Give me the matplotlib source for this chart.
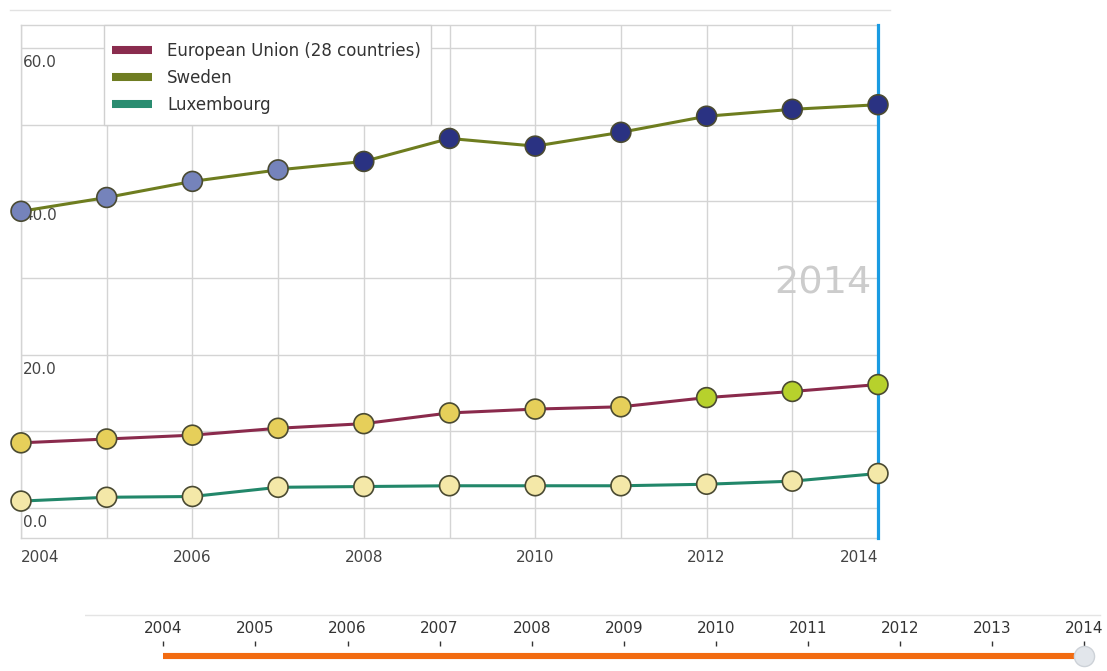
import matplotlib
matplotlib.use("Agg")
import matplotlib.pyplot as plt
from matplotlib.lines import Line2D
from matplotlib.patches import Rectangle

# ---------------- data ----------------
years = [2004, 2005, 2006, 2007, 2008, 2009, 2010, 2011, 2012, 2013, 2014]
eu28 = [8.5, 9.0, 9.5, 10.4, 11.0, 12.4, 12.9, 13.2, 14.4, 15.2, 16.1]
sweden = [38.7, 40.5, 42.6, 44.1, 45.2, 48.2, 47.2, 49.0, 51.1, 52.0, 52.6]
luxembourg = [0.9, 1.4, 1.5, 2.7, 2.8, 2.9, 2.9, 2.9, 3.1, 3.5, 4.5]
series_names = ["European Union (28 countries)", "Sweden", "Luxembourg"]
y_ticks = [0, 20, 40, 60]
y_tick_labels = ["0.0", "20.0", "40.0", "60.0"]
x_label_years = [2004, 2006, 2008, 2010, 2012, 2014]
slider_years = years
selected_year = 2014

# styles
line_colors = ["#8a2a4c", "#6e7d1f", "#22876a"]
legend_colors = ["#8a2c4e", "#6f7d22", "#2a8c70"]
eu_marker_colors = ["#e6cf5a"] * 8 + ["#b7d12c"] * 3
se_marker_colors = ["#7583bb"] * 4 + ["#2a3282"] * 7
lu_marker_colors = ["#f4e8a8"] * 11

W, H = 1107, 671
fig = plt.figure(figsize=(W / 100, H / 100), dpi=100)
fig.patch.set_facecolor("white")

def px_rect(x0, y0, x1, y1):
    return [x0 / W, 1 - y1 / H, (x1 - x0) / W, (y1 - y0) / H]

# ---------------- main chart ----------------
ax = fig.add_axes(px_rect(21, 25, 878, 538))
ax.set_xlim(2004, 2014)
y0px, spp = 508, 7.667
ax.set_ylim(-(538 - y0px) / spp, (y0px - 25) / spp)

ax.set_xticks(x_label_years)
ax.set_xticks([y for y in years if y not in x_label_years], minor=True)
ax.set_yticks(list(range(0, 61, 10)))
ax.set_yticklabels([])
ax.tick_params(axis="both", which="both", length=0)
ax.tick_params(axis="x", labelsize=11, labelcolor="#444444", pad=9)
ax.set_xticklabels([str(y) for y in x_label_years], fontfamily="DejaVu Sans")
for lbl in ax.get_xticklabels():
    t = lbl.get_text()
    if t == str(years[0]):
        lbl.set_ha("left")
    elif t == str(years[-1]):
        lbl.set_ha("right")
ax.grid(True, which="both", color="#d4d4d4", lw=1)
ax.set_axisbelow(True)
for s in ["left", "top", "bottom"]:
    ax.spines[s].set_color("#d4d4d4")
    ax.spines[s].set_linewidth(1)
ax.spines["right"].set_visible(False)

for v, lab in zip(y_ticks, y_tick_labels):
    ax.annotate(lab, xy=(0, v), xycoords=("axes fraction", "data"),
                xytext=(1.5, -5), textcoords="offset points",
                ha="left", va="top", fontsize=11, color="#444444",
                fontfamily="DejaVu Sans", zorder=1)

# big year label and selection line
ax.annotate(str(selected_year), xy=(selected_year, 29.3), xycoords="data",
            xytext=(-4.5, 0), textcoords="offset points",
            ha="right", va="center", fontsize=27.5, color="#cccccc",
            fontfamily="DejaVu Sans", zorder=2)
ax.axvline(selected_year, color="#1a9be2", lw=2.3, zorder=3, clip_on=False)

all_series = [eu28, sweden, luxembourg]
marker_cols = [eu_marker_colors, se_marker_colors, lu_marker_colors]
for vals, lc, mc in zip(all_series, line_colors, marker_cols):
    ax.plot(years, vals, color=lc, lw=2.2, zorder=4, clip_on=False,
            solid_joinstyle="round")
    ax.scatter(years, vals, s=14.3 ** 2, c=mc, edgecolors="#4a4a32",
               linewidths=1.2, zorder=5, clip_on=False)

# legend frame (drawn separately for unequal vertical/horizontal padding)
frame = Rectangle((104 / W, 1 - 125 / H), (431 - 104) / W, 100 / H,
                  transform=fig.transFigure, facecolor="white",
                  edgecolor="#d0d0d0", lw=1, zorder=9, clip_on=False)
ax.add_patch(frame)

handles = [Line2D([0], [0], color=c, lw=5.8, solid_capstyle="butt")
           for c in legend_colors]
leg = ax.legend(handles, series_names, loc="upper left",
                bbox_to_anchor=(104 / W, 1 - 34 / H),
                bbox_transform=fig.transFigure, borderaxespad=0,
                prop={"family": "DejaVu Sans", "size": 12},
                handlelength=2.45, handletextpad=0.9, labelspacing=0.55,
                borderpad=0.45, frameon=False)
for t in leg.get_texts():
    t.set_color("#333333")
leg.set_zorder(10)

# top border line
fig.add_artist(Line2D([10 / W, 890 / W], [1 - 10 / H, 1 - 10 / H],
                      color="#e2e2e2", lw=1))

# ---------------- slider ----------------
sx = fig.add_axes(px_rect(85, 600, 1105, 668))
pyear = 92.1
sx.set_xlim(2004 - (163.3 - 85) / pyear, 2014 + (1105 - 1084.3) / pyear)
sx.set_ylim(0, 1)
for s in sx.spines.values():
    s.set_visible(False)
sx.yaxis.set_visible(False)
sx.patch.set_alpha(0)
sx.xaxis.set_ticks_position("top")
sx.spines["top"].set_position(("data", 0.33))
sx.set_xticks(slider_years)
sx.set_xticklabels([str(y) for y in slider_years], fontfamily="DejaVu Sans")
sx.tick_params(axis="x", direction="out", length=3.6, width=1,
               color="#333333", pad=3.2, labelsize=11, labelcolor="#333333")
sx.axhline(0.779, xmin=0, xmax=(1100 - 85) / (1105 - 85), color="#e4e4e4", lw=1)
sx.plot([slider_years[0], slider_years[-1]], [0.176, 0.176], color="#f26b10",
        lw=4.4, solid_capstyle="butt", zorder=3)
sx.plot([selected_year], [0.176], "o", ms=14.5, mfc="#e2e6eb",
        mec="#cdd2d8", mew=1, zorder=4, clip_on=False)

fig.savefig("out.png", dpi=100, facecolor="white")
